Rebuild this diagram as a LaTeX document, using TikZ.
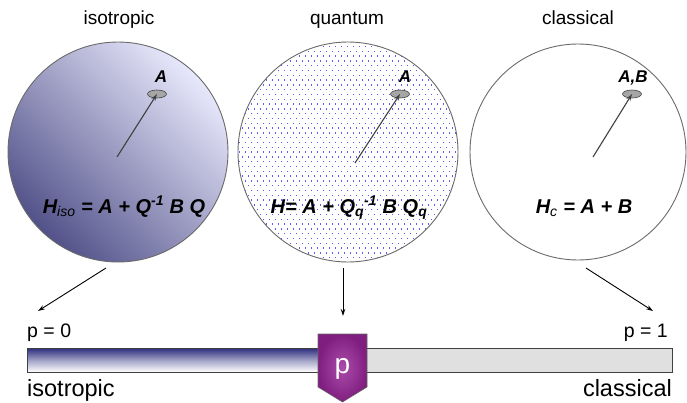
\documentclass[tikz,border=0pt]{standalone}
\usepackage{fontspec}
\setmainfont{Liberation Sans}
\usetikzlibrary{shapes.geometric,arrows.meta}
\definecolor{isodark}{HTML}{52528A}
\definecolor{isolight}{HTML}{E8E8FC}
\definecolor{dotblue}{HTML}{5C5CFA}
\definecolor{rim}{HTML}{6A6A6A}
\definecolor{barnavy}{HTML}{2C2C7E}
\definecolor{bargray}{HTML}{E0E0E0}
\definecolor{markin}{HTML}{AA4CAA}
\definecolor{markout}{HTML}{801E80}
\begin{document}
\begin{tikzpicture}[x=1pt,y=-1pt,
  sphere/.style={circle,draw=rim,line width=0.9pt,minimum size=220pt,inner sep=0pt},
  disc/.style={ellipse,draw=black!75,fill=black!35,line width=0.6pt,minimum width=19pt,minimum height=8pt,inner sep=0pt},
  ptr/.style={draw=black!75,line width=1.1pt,-{Stealth[length=7pt,width=4.5pt]}},
  down/.style={draw=black,line width=0.9pt,-{Stealth[length=7pt,width=4.5pt]}},
  title/.style={font=\fontsize{19}{22}\selectfont,anchor=base,inner sep=0pt},
  lab/.style={font=\fontsize{17}{20}\selectfont\bfseries\itshape,anchor=base,inner sep=0pt},
  formula/.style={font=\fontsize{20}{24}\selectfont\bfseries\itshape,anchor=base,inner sep=0pt},
  plabel/.style={font=\fontsize{19.5}{22}\selectfont,inner sep=0pt},
  endlabel/.style={font=\fontsize{23.5}{27}\selectfont,inner sep=0pt}]
\useasboundingbox (0,0) rectangle (687,402);

% titles
\node[title] (t1) at (119,24) {isotropic};
\node[title] (t2) at (347,24) {quantum};
\node[title] (t3) at (578,24) {classical};

% isotropic sphere
\shade[bottom color=isodark,top color=isolight,shading angle=-45] (118,152) circle (110pt);
\node[sphere] (iso) at (118,152) {};
% quantum sphere with dots
\begin{scope}
  \clip (348,152) circle (110pt);
  \foreach \j in {0,...,45}{
    \foreach \i in {0,...,37}{
      \fill[dotblue] ({236+6*\i+3*mod(\j,2)},{41+4.8*\j}) rectangle ++(1.3,1.3);
    }
  }
\end{scope}
\node[sphere] (qu) at (348,152) {};
% classical sphere
\node[sphere,minimum size=216pt] (cl) at (578,152) {};

% discs and pointers
\node[disc] (e1) at (157,94) {};
\node[disc] (e2) at (400,94) {};
\node[disc] (e3) at (632,94) {};
\coordinate (c1) at (117,157);
\coordinate (c2) at (355,163);
\coordinate (c3) at (593,157);
\draw[ptr] (c1) -- (e1.center);
\draw[ptr] (c2) -- (e2.center);
\draw[ptr] (c3) -- (e3.center);
\node[lab] (A1) at (161,82) {A};
\node[lab] (A2) at (405,82) {A};
\node[lab] (A3) at (633,82) {A,B};

% formulas
\node[formula] (f1) at (124,213) {H\textsubscript{\mdseries iso} = A + Q\textsuperscript{-1} B Q};
\node[formula] (f2) at (349,213) {H= A + Q\textsubscript{q}\textsuperscript{-1} B Q\textsubscript{q}};
\node[formula] (f3) at (584,213) {H\textsubscript{\mdseries c} = A + B};

% bar
\shade[top color=barnavy,bottom color=white,middle color=barnavy!45!white] (27,348) rectangle (320,372);
\fill[bargray] (320,348) rectangle (672,372);
\node[draw=black!75,line width=0.8pt,minimum width=645pt,minimum height=24pt,inner sep=0pt] (bar) at (349.5,360) {};

% marker
\shade[inner color=markin,outer color=markout,draw=black!60,line width=0.6pt]
  (318,334) -- (367,334) -- (367,387) -- (342.5,402) -- (318,387) -- cycle;
\node[font=\fontsize{28}{30}\selectfont,text=white,anchor=base,inner sep=0pt] (pm) at (342.5,373) {p};

% arrows down
\coordinate (s1) at (106,268);
\coordinate (d1) at (38,311);
\coordinate (s2) at (343,268);
\coordinate (d2) at (343,316);
\coordinate (s3) at (586,268);
\coordinate (d3) at (653,311);
\draw[down] (s1) -- (d1);
\draw[down] (s2) -- (d2);
\draw[down] (s3) -- (d3);

% labels
\node[plabel,anchor=base west] (p0) at (27,337) {p = 0};
\node[plabel,anchor=base east] (p1) at (668,337) {p = 1};
\node[endlabel,anchor=base west] (li) at (27,396) {isotropic};
\node[endlabel,anchor=base east] (lc) at (672,396) {classical};
\end{tikzpicture}
\end{document}
